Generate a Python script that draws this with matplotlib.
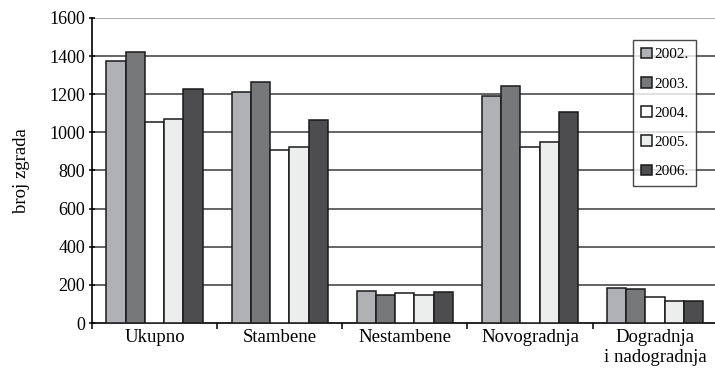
import matplotlib.pyplot as plt
import numpy as np

plt.rcParams['font.family'] = ['Liberation Serif', 'DejaVu Serif']

categories = ["Ukupno", "Stambene", "Nestambene", "Novogradnja", "Dogradnja\ni nadogradnja"]
years = ["2002.", "2003.", "2004.", "2005.", "2006."]
values = {
    "2002.": [1375, 1212, 170, 1190, 185],
    "2003.": [1420, 1265, 148, 1245, 179],
    "2004.": [1056, 907, 157, 925, 134],
    "2005.": [1068, 921, 148, 950, 116],
    "2006.": [1228, 1063, 164, 1107, 116],
}
colors = ["#b0b1b4", "#77787a", "#ffffff", "#eceeed", "#4d4d4f"]

fig = plt.figure(figsize=(7.15, 3.7), dpi=100)
ax = fig.add_axes([0.1287, 0.127, 0.875, 0.8244])

x = np.arange(len(categories))
w = 0.154
for i, yr in enumerate(years):
    ax.bar(x + (i - 2) * w, values[yr], width=w, color=colors[i],
           edgecolor="#1a1a1a", linewidth=1.1, label=yr, zorder=3)

ax.set_ylim(0, 1600)
ax.set_xlim(-0.5, len(categories) - 0.5)
ax.set_yticks(range(0, 1601, 200))
ax.set_yticklabels([str(v) for v in range(0, 1601, 200)], fontsize=13)
for v in range(200, 1401, 200):
    ax.axhline(v, color="#3a3a3a", linewidth=1.1, zorder=1)
ax.axhline(1600, color="#a0a0a0", linewidth=1.2, zorder=1)

ax.set_xticks(np.arange(len(categories) + 1) - 0.5, minor=False)
ax.set_xticklabels([])
ax.set_xticks(x, minor=True)
ax.set_xticklabels(categories, minor=True, fontsize=13.5, linespacing=1.25)
ax.tick_params(axis="x", which="minor", length=0, pad=4)
ax.tick_params(axis="x", which="major", length=4, direction="out", width=1.1)
ax.tick_params(axis="y", length=4, direction="inout", width=1.1, pad=3)

for s in ["top", "right"]:
    ax.spines[s].set_visible(False)
ax.spines["left"].set_linewidth(1.2)
ax.spines["bottom"].set_linewidth(1.2)
ax.set_ylabel("broj zgrada", fontsize=13.5, labelpad=14)

leg = ax.legend(loc="upper left", bbox_to_anchor=(0.865, 0.928), fontsize=11,
                frameon=True, fancybox=False, handlelength=0.7, handleheight=0.7,
                handletextpad=0.2, labelspacing=1.02, borderpad=0.5,
                borderaxespad=0)
leg.get_frame().set_edgecolor("#1a1a1a")
leg.get_frame().set_linewidth(1.0)
leg.set_zorder(5)

fig.savefig("out.png", dpi=100)
